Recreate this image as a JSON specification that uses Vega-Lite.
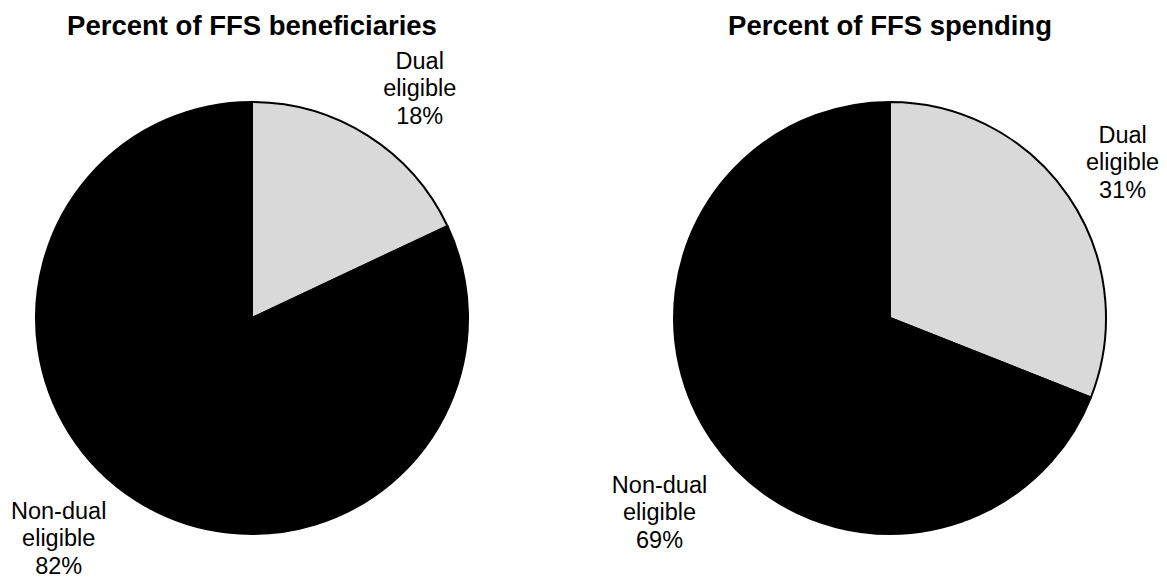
{
  "$schema": "https://vega.github.io/schema/vega-lite/v6.json",
  "background": "white",
  "padding": {"top": 12, "left": 5, "right": 5, "bottom": 5},
  "bounds": "flush",
  "config": {
    "view": {"stroke": null},
    "font": "Liberation Sans",
    "title": {"font": "Liberation Sans", "fontSize": 27.5, "fontWeight": "bold", "color": "black", "anchor": "middle", "frame": "group", "offset": 6}
  },
  "data": {
    "values": [
      {"panel": "beneficiaries", "category": "Dual eligible", "pct": 18},
      {"panel": "beneficiaries", "category": "Non-dual eligible", "pct": 82},
      {"panel": "spending", "category": "Dual eligible", "pct": 31},
      {"panel": "spending", "category": "Non-dual eligible", "pct": 69}
    ]
  },
  "transform": [
    {"calculate": "replace(datum.category, ' ', '\\n') + '\\n' + datum.pct + '%'", "as": "label"}
  ],
  "spacing": 144,
  "hconcat": [
    {
      "title": "Percent of FFS beneficiaries",
      "width": 494,
      "height": 544,
      "transform": [{"filter": "datum.panel == 'beneficiaries'"}],
      "encoding": {
        "theta": {"field": "pct", "type": "quantitative", "stack": true},
        "order": {"field": "category", "type": "nominal"},
        "color": {
          "field": "category",
          "type": "nominal",
          "scale": {"domain": ["Dual eligible", "Non-dual eligible"], "range": ["#d9d9d9", "#000000"]},
          "legend": null
        }
      },
      "layer": [
        {"mark": {"type": "arc", "outerRadius": 216, "stroke": "black", "strokeWidth": 2}},
        {
          "mark": {
            "type": "text",
            "radius": {"expr": "datum.category == 'Dual eligible' ? 300 : 232"},
            "dx": {"expr": "datum.category == 'Dual eligible' ? 7 : -69"},
            "dy": {"expr": "datum.category == 'Dual eligible' ? -3 : -2"},
            "lineBreak": "\n",
            "fontSize": 23.5,
            "lineHeight": 27.5,
            "align": "center",
            "baseline": "middle"
          },
          "encoding": {"text": {"field": "label"}, "color": {"value": "black"}}
        }
      ]
    },
    {
      "title": "Percent of FFS spending",
      "width": 494,
      "height": 544,
      "transform": [{"filter": "datum.panel == 'spending'"}],
      "encoding": {
        "theta": {"field": "pct", "type": "quantitative", "stack": true},
        "order": {"field": "category", "type": "nominal"},
        "color": {
          "field": "category",
          "type": "nominal",
          "scale": {"domain": ["Dual eligible", "Non-dual eligible"], "range": ["#d9d9d9", "#000000"]},
          "legend": null
        }
      },
      "layer": [
        {"mark": {"type": "arc", "outerRadius": 216, "stroke": "black", "strokeWidth": 2}},
        {
          "mark": {
            "type": "text",
            "radius": {"expr": "datum.category == 'Dual eligible' ? 280 : 298"},
            "dx": {"expr": "datum.category == 'Dual eligible' ? 1 : 16"},
            "dy": {"expr": "datum.category == 'Dual eligible' ? -25 : 0"},
            "lineBreak": "\n",
            "fontSize": 23.5,
            "lineHeight": 27.5,
            "align": "center",
            "baseline": "middle"
          },
          "encoding": {"text": {"field": "label"}, "color": {"value": "black"}}
        }
      ]
    }
  ]
}
